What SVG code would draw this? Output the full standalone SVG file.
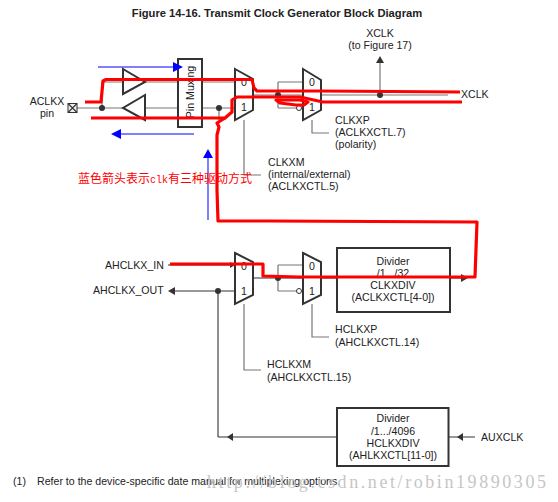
<svg xmlns="http://www.w3.org/2000/svg" width="558" height="502" viewBox="0 0 558 502">
<style>
text{font-family:"Liberation Sans",Arial,sans-serif;font-size:10.6px;fill:#222}
.m{text-anchor:middle}
.sh{fill:#fff;stroke:#333;stroke-width:2}
.g{fill:none;stroke:#777;stroke-width:1.2}
.k{fill:none;stroke:#333;stroke-width:1.1}
.d{fill:#333}
.red{fill:none;stroke:#f00;stroke-width:3.2;stroke-linejoin:round}
.blue{fill:none;stroke:#00f;stroke-width:1}
.bh{fill:#00f}
</style>
<rect width="558" height="502" fill="#fff"/>
<text x="277" y="17" class="m" style="font-size:11.2px;font-weight:bold">Figure 14-16. Transmit Clock Generator Block Diagram</text>
<g id="connectors">
<path class="g" d="M77 108H123M145 108H178M123 82H102V108M145 82H178M202 108H235M202 82H235"/>
<path class="g" d="M219 108V120M253 95H303M278 82H303M278 108H297M278 82V108M321 95H448"/>
<path class="g" d="M380 95V60"/>
<path class="d" d="M380 56l-4 7h8z"/>
<path class="g" d="M244 120V175H261M312 120V133H329"/>
<path class="k" d="M168 265H232M253 278H303M321 278H462M235 291H172M218 291V437M337 437H218M449 437H475"/>
<path class="g" d="M278 265H303M278 291H297M278 265V291"/>
<path class="d" d="M168 291l7-4v8zM227 437l6-4v8zM457 437l6-4v8zM235 265l-5-3v6zM468 278l-7-4v8z"/>
<path class="g" d="M244 304V370H261M312 304V337H329"/>
<circle class="d" cx="102" cy="108" r="3"/><circle class="d" cx="219" cy="108" r="3"/><circle class="d" cx="278" cy="95" r="3"/><circle class="d" cx="380" cy="95" r="3"/><circle class="d" cx="278" cy="278" r="3"/><circle class="d" cx="218" cy="291" r="3"/>
<circle cx="299" cy="108" r="2.5" fill="#fff" stroke="#333"/><circle cx="299" cy="291" r="2.5" fill="#fff" stroke="#333"/>
</g>
<g id="aclkx-pin"><rect x="68" y="103.500" width="9" height="9" fill="#eee" stroke="#333"/><path class="k" d="M68 103.500l9 9M77 103.500l-9 9"/><text x="47" y="105" class="m">ACLKX</text><text x="47" y="117" class="m">pin</text></g>
<g id="buf-rx"><path class="sh" d="M123 69L145 82L123 94Z"/></g>
<g id="buf-tx"><path class="sh" d="M145 95L123 108L145 120Z"/></g>
<g id="pin-mux"><rect class="sh" x="178" y="59" width="24" height="68"/><text transform="translate(194 92) rotate(-90)" class="m">Pin Muxing</text></g>
<g id="mux-clkxm"><path class="sh" d="M235 69L253 79V110L235 120Z"/><text x="244" y="86" class="m">0</text><text x="244" y="111" class="m">1</text></g>
<g id="mux-clkxp"><path class="sh" d="M303 69L321 80V110L303 120Z"/><text x="312" y="86" class="m">0</text><text x="312" y="111" class="m">1</text></g>
<g id="mux-hclkxm"><path class="sh" d="M235 253L253 262V295L235 304Z"/><text x="244" y="270" class="m">0</text><text x="244" y="295" class="m">1</text></g>
<g id="mux-hclkxp"><path class="sh" d="M303 253L321 262V295L303 304Z"/><text x="312" y="270" class="m">0</text><text x="312" y="295" class="m">1</text></g>
<g id="div-clkx"><rect class="sh" x="337" y="248" width="113" height="64"/><text x="393" y="265" class="m">Divider</text><text x="393" y="277" class="m">/1.../32</text><text x="393" y="288.500" class="m">CLKXDIV</text><text x="393" y="301" class="m">(ACLKXCTL[4-0])</text></g>
<g id="div-hclkx"><rect class="sh" x="337" y="408" width="111.500" height="58"/><text x="393" y="422" class="m">Divider</text><text x="393" y="434.500" class="m">/1.../4096</text><text x="393" y="447" class="m">HCLKXDIV</text><text x="393" y="459" class="m">(AHLKXCTL[11-0])</text></g>
<g id="labels">
<text x="380" y="37" class="m">XCLK</text><text x="380" y="49" class="m">(to Figure 17)</text>
<text x="461" y="98">XCLK</text>
<text x="335" y="124">CLKXP</text><text x="335" y="136">(ACLKXCTL.7)</text><text x="335" y="148">(polarity)</text>
<text x="268" y="166">CLKXM</text><text x="268" y="178">(internal/external)</text><text x="268" y="190">(ACLKXCTL.5)</text>
<text x="105" y="269">AHCLKX_IN</text><text x="93" y="294">AHCLKX_OUT</text>
<text x="335" y="333">HCLKXP</text><text x="335" y="346">(AHCLKXCTL.14)</text>
<text x="267" y="368">HCLKXM</text><text x="267" y="381">(AHCLKXCTL.15)</text>
<text x="481" y="441">AUXCLK</text>
<text x="13" y="485">(1)</text><text x="37" y="485">Refer to the device-specific date manual for multiplexing options.</text>
<text x="207" y="488" textLength="339" lengthAdjust="spacing" style="font-family:'Liberation Serif',serif;font-size:18px;fill:#c6c6c6">http://blog.csdn.net/robin19890305</text>
</g>
<g id="annotations">
<path class="red" d="M85 102H101L103 81L106 79.500H252L254 88L257 91H320L460 92M91 118H225L232 112L232 100L237 97H300L323 102H462"/>
<path class="red" d="M276 100H300L308 102L304 105H296L280 103Z"/>
<path class="red" d="M225 118L217 123L219 127L217 135V190L218 221H270L477 222L475 277H300L263 276V264H170"/>
<path class="blue" d="M98 67H175M118 134H194M208 220V155"/>
<path class="bh" d="M173 62L183 67L173 72ZM111 134L121 129V139ZM208 149L203 158H213Z"/>
<text x="78" y="183" style="font-family:'Noto Sans CJK SC',sans-serif;font-size:12px;fill:#f00">蓝色箭头表示<tspan style="font-family:'Liberation Mono',monospace;font-size:10px;fill:#f00">clk</tspan>有三种驱动方式</text>
</g>
</svg>
